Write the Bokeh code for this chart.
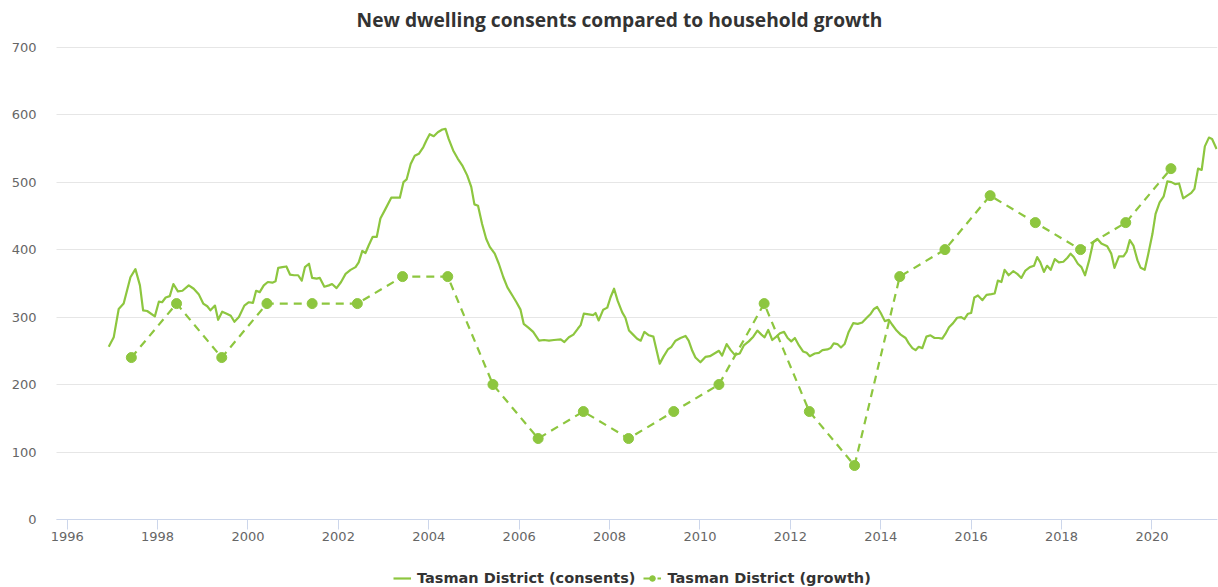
from bokeh.plotting import figure
from bokeh.models import Range1d, FixedTicker, Legend, LegendItem, Label, ColumnDataSource
from bokeh.embed import file_html
from bokeh.resources import INLINE

title_text = "New dwelling consents compared to household growth"
consents_label = "Tasman District (consents)"
growth_label = "Tasman District (growth)"

consent_years = [
    1996.92, 1997.03, 1997.14, 1997.25, 1997.40, 1997.51, 1997.61, 1997.68, 1997.77, 1997.94,
    1998.03, 1998.10, 1998.18, 1998.27, 1998.35, 1998.45, 1998.55, 1998.69, 1998.80, 1998.91,
    1999.01, 1999.10, 1999.17, 1999.27, 1999.34, 1999.43, 1999.53, 1999.62, 1999.70, 1999.80,
    1999.92, 2000.02, 2000.11, 2000.18, 2000.26, 2000.35, 2000.44, 2000.54, 2000.61, 2000.67,
    2000.76, 2000.85, 2000.93, 2001.02, 2001.11, 2001.19, 2001.26, 2001.35, 2001.42, 2001.52,
    2001.59, 2001.69, 2001.79, 2001.86, 2001.96, 2002.06, 2002.16, 2002.27, 2002.38, 2002.45,
    2002.53, 2002.60, 2002.67, 2002.76, 2002.85, 2002.93, 2003.04, 2003.17, 2003.27, 2003.36,
    2003.44, 2003.51, 2003.60, 2003.69, 2003.78, 2003.88, 2003.95, 2004.02, 2004.11, 2004.20,
    2004.30, 2004.37, 2004.44, 2004.54, 2004.64, 2004.74, 2004.85, 2004.94, 2005.01, 2005.09,
    2005.18, 2005.27, 2005.35, 2005.46, 2005.55, 2005.65, 2005.74, 2005.85, 2005.94, 2006.03,
    2006.10, 2006.21, 2006.31, 2006.44, 2006.55, 2006.66, 2006.77, 2006.92, 2007.00, 2007.10,
    2007.20, 2007.30, 2007.36, 2007.43, 2007.54, 2007.64, 2007.69, 2007.76, 2007.86, 2007.95,
    2008.02, 2008.10, 2008.18, 2008.28, 2008.35, 2008.43, 2008.52, 2008.61, 2008.69, 2008.77,
    2008.87, 2008.97, 2009.04, 2009.11, 2009.19, 2009.29, 2009.37, 2009.46, 2009.57, 2009.68,
    2009.75, 2009.83, 2009.90, 2010.01, 2010.12, 2010.22, 2010.32, 2010.42, 2010.49, 2010.59,
    2010.68, 2010.77, 2010.88, 2010.97, 2011.08, 2011.18, 2011.27, 2011.36, 2011.43, 2011.51,
    2011.60, 2011.69, 2011.77, 2011.86, 2011.94, 2012.02, 2012.10, 2012.19, 2012.28, 2012.36,
    2012.43, 2012.54, 2012.63, 2012.71, 2012.82, 2012.89, 2012.96, 2013.04, 2013.12, 2013.20,
    2013.29, 2013.39, 2013.49, 2013.59, 2013.69, 2013.78, 2013.85, 2013.92, 2014.00, 2014.09,
    2014.18, 2014.25, 2014.35, 2014.44, 2014.55, 2014.62, 2014.70, 2014.77, 2014.84, 2014.92,
    2015.01, 2015.10, 2015.19, 2015.28, 2015.36, 2015.43, 2015.51, 2015.60, 2015.69, 2015.78,
    2015.85, 2015.93, 2016.00, 2016.07, 2016.15, 2016.25, 2016.34, 2016.45, 2016.52, 2016.59,
    2016.67, 2016.74, 2016.83, 2016.93, 2017.02, 2017.11, 2017.20, 2017.30, 2017.39, 2017.46,
    2017.53, 2017.61, 2017.68, 2017.76, 2017.85, 2017.94, 2018.04, 2018.13, 2018.20, 2018.27,
    2018.36, 2018.44, 2018.52, 2018.61, 2018.70, 2018.79, 2018.88, 2019.01, 2019.10, 2019.17,
    2019.27, 2019.37, 2019.44, 2019.51, 2019.59, 2019.68, 2019.75, 2019.84, 2019.91, 2020.01,
    2020.08, 2020.17, 2020.26, 2020.34, 2020.43, 2020.52, 2020.60, 2020.69, 2020.78, 2020.87,
    2020.94, 2021.02, 2021.10, 2021.17, 2021.26, 2021.33, 2021.43,
]
consent_values = [
    256, 270, 312, 320, 359, 371, 347, 310, 309, 301,
    323, 322, 329, 331, 349, 338, 339, 347, 342, 334,
    320, 316, 310, 317, 296, 308, 305, 302, 293, 300,
    317, 322, 321, 339, 337, 347, 352, 351, 353, 373,
    374, 375, 363, 362, 362, 354, 374, 379, 358, 357,
    358, 345, 347, 349, 343, 352, 364, 370, 374, 381,
    398, 395, 406, 419, 419, 446, 460, 477, 477, 477,
    500, 504, 527, 539, 542, 552, 562, 571, 568, 574,
    578, 579, 564, 547, 535, 525, 510, 493, 467, 465,
    438, 416, 404, 394, 379, 359, 344, 332, 322, 311,
    290, 284, 278, 265, 266, 265, 266, 267, 263, 270,
    274, 283, 288, 305, 304, 303, 306, 295, 311, 314,
    329, 342, 324, 307, 299, 280, 274, 268, 265, 278,
    273, 271, 251, 231, 241, 252, 256, 265, 269, 272,
    265, 250, 240, 233, 241, 242, 246, 250, 243, 260,
    251, 244, 246, 258, 264, 271, 280, 274, 270, 281,
    266, 271, 276, 278, 269, 264, 269, 258, 249, 247,
    242, 246, 247, 251, 252, 254, 261, 260, 255, 260,
    278, 291, 290, 292, 299, 305, 312, 315, 306, 294,
    296, 289, 280, 274, 269, 261, 254, 251, 256, 254,
    271, 273, 269, 269, 268, 275, 285, 291, 299, 300,
    297, 305, 306, 329, 332, 325, 333, 334, 335, 354,
    352, 370, 362, 368, 364, 358, 369, 374, 376, 389,
    381, 367, 376, 370, 386, 381, 382, 388, 394, 389,
    379, 374, 362, 384, 411, 416, 409, 405, 394, 373,
    390, 390, 397, 414, 406, 384, 373, 370, 391, 423,
    453, 470, 479, 501, 500, 497, 498, 476, 480, 484,
    490, 520, 518, 553, 566, 564, 549,
]

growth_years = [
    1997.42, 1998.42, 1999.42, 2000.42, 2001.42, 2002.42, 2003.42, 2004.42,
    2005.42, 2006.42, 2007.42, 2008.42, 2009.42, 2010.42, 2011.42, 2012.42,
    2013.42, 2014.42, 2015.42, 2016.42, 2017.42, 2018.42, 2019.42, 2020.42,
]
growth_values = [
    240, 320, 240, 320, 320, 320, 360, 360,
    200, 120, 160, 120, 160, 200, 320, 160,
    80, 360, 400, 480, 440, 400, 440, 520,
]

x_ticks = [1996, 1998, 2000, 2002, 2004, 2006, 2008, 2010, 2012, 2014, 2016, 2018, 2020]
y_ticks = [0, 100, 200, 300, 400, 500, 600, 700]
x_plot_bounds = (1995.77, 2021.45)   # visible extent of the plot area (axis line, grid)

GREEN = "#8dc63f"
LABEL_FONT = "DejaVu Sans"
W, H = 1218, 587

# frame spans the whole canvas height (and starts a little left of the plot area so
# the first x tick label is not clipped); y range puts 0 at 519px and 700 at 46.7px.
p = figure(
    width=W, height=H,
    output_backend="svg", toolbar_location=None,
    x_range=Range1d(1995.41, 2021.45), y_range=Range1d(-100.8, 769.2),
    min_border_left=40, min_border_right=1, min_border_top=0, min_border_bottom=0,
)
p.outline_line_color = None
p.background_fill_color = "white"
p.border_fill_color = "white"

# axes
p.xaxis.fixed_location = 0
p.xaxis.bounds = x_plot_bounds
p.xaxis.ticker = FixedTicker(ticks=x_ticks)
p.xaxis.major_label_overrides = {t: str(t) for t in x_ticks}
p.xaxis.axis_line_color = "#ccd6eb"
p.xaxis.major_tick_line_color = "#ccd6eb"
p.xaxis.major_tick_out = 10
p.xaxis.major_tick_in = 0
p.xaxis.minor_tick_line_color = None
p.xaxis.major_label_text_font = LABEL_FONT
p.xaxis.major_label_text_font_size = "13px"
p.xaxis.major_label_text_color = "#666666"
p.xaxis.major_label_standoff = 3

p.yaxis.ticker = FixedTicker(ticks=y_ticks)
p.yaxis.axis_line_color = None
p.yaxis.major_tick_line_color = None
p.yaxis.major_tick_out = 0
p.yaxis.major_tick_in = 0
p.yaxis.minor_tick_line_color = None
p.yaxis.minor_tick_out = 0
p.yaxis.major_label_text_font = LABEL_FONT
p.yaxis.major_label_text_font_size = "13px"
p.yaxis.major_label_text_color = "#666666"
p.yaxis.major_label_standoff = 4

p.xgrid.grid_line_color = None
p.ygrid.ticker = FixedTicker(ticks=y_ticks)
p.ygrid.cross_bounds = x_plot_bounds
p.ygrid.grid_line_color = "#e6e6e6"
p.ygrid.grid_line_width = 1

src_c = ColumnDataSource(dict(x=consent_years, y=consent_values))
src_g = ColumnDataSource(dict(x=growth_years, y=growth_values))

r_c = p.line("x", "y", source=src_c, line_color=GREEN, line_width=2.2, line_join="round")
r_gl = p.line("x", "y", source=src_g, line_color=GREEN, line_width=2.2, line_dash="8 6")
r_gs = p.scatter("x", "y", source=src_g, size=10, marker="circle",
                 fill_color=GREEN, line_color=GREEN)

# title (screen units, measured from the frame's bottom-left)
title = Label(x=579, y=H - 18.7, x_units="screen", y_units="screen",
              text=title_text, text_align="center", text_baseline="alphabetic",
              text_font="Open Sans", text_font_style="bold",
              text_font_size="19.2px", text_color="#333333")
p.add_layout(title)

legend = Legend(
    items=[LegendItem(label=consents_label, renderers=[r_c]),
           LegendItem(label=growth_label, renderers=[r_gl, r_gs])],
    orientation="horizontal", location=(353, 1),
    padding=0, margin=0, spacing=8, glyph_width=18, glyph_height=14,
    label_height=14, label_standoff=6,
    label_text_font=LABEL_FONT, label_text_font_style="bold",
    label_text_font_size="14.5px", label_text_color="#333333",
    background_fill_alpha=0, border_line_alpha=0,
)
p.add_layout(legend, "center")

open("out.html", "w").write(file_html(p, INLINE))
